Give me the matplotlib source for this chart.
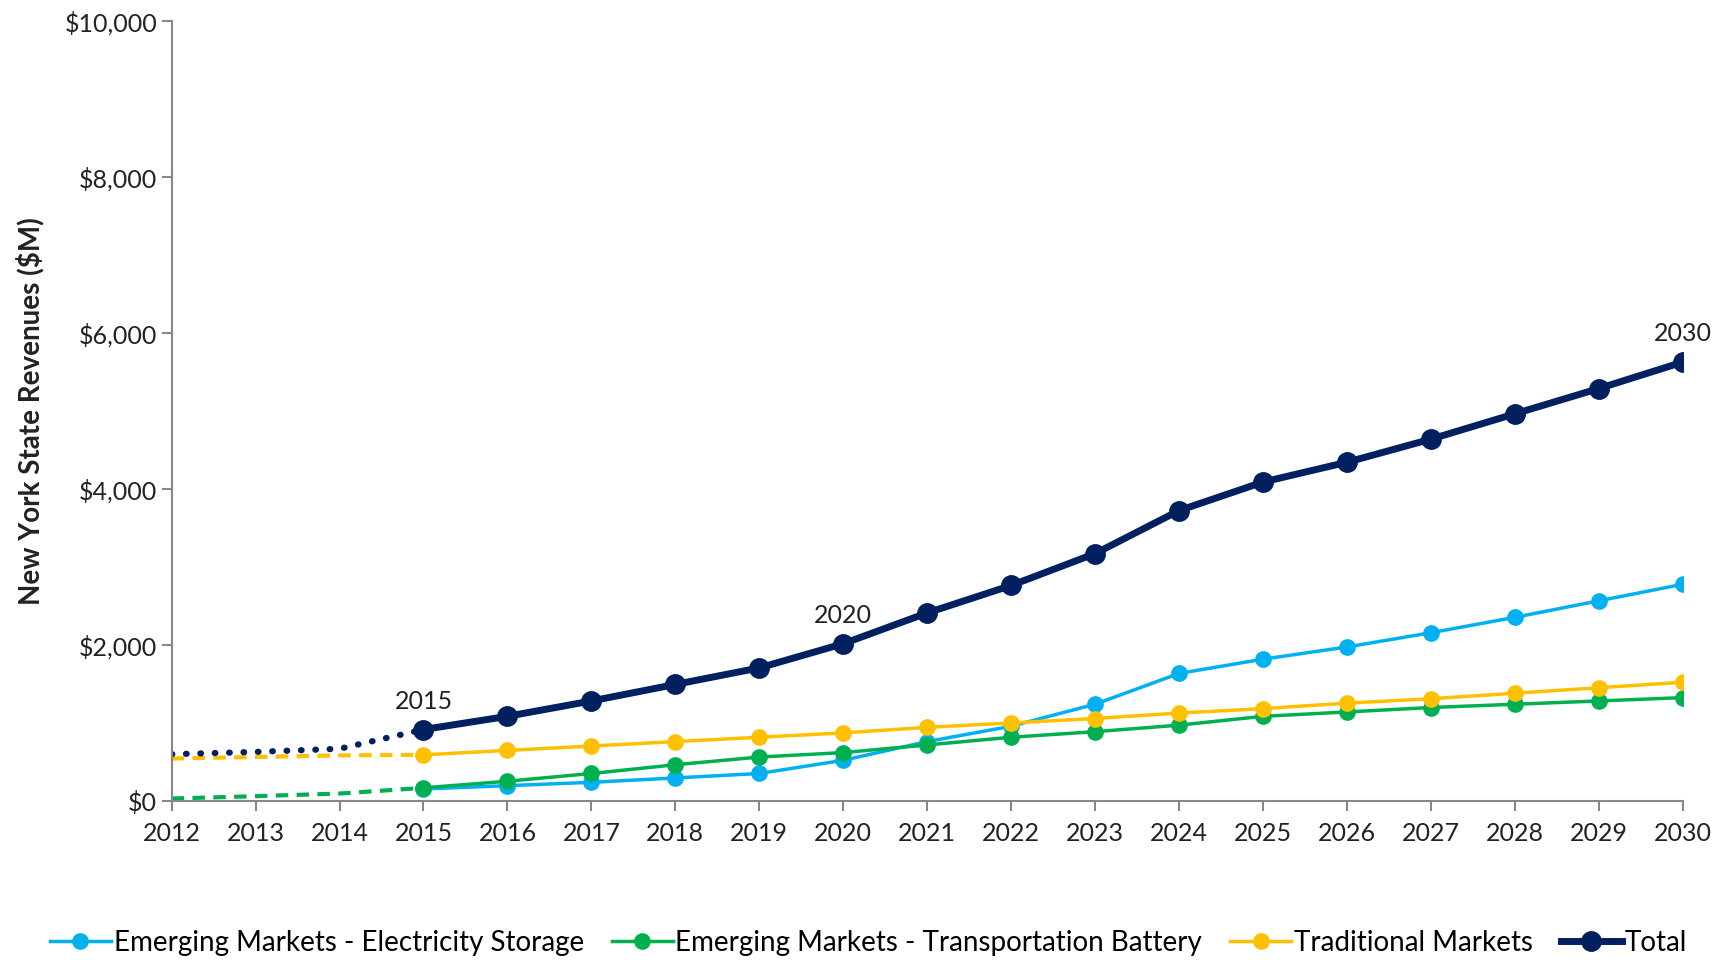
import matplotlib.pyplot as plt
from matplotlib.ticker import FuncFormatter

plt.rcParams['font.family'] = ['Lato', 'DejaVu Sans']

# Data ($M)
years = list(range(2015, 2031))
hist_years = [2012, 2013, 2014, 2015]

elec_storage = [155, 197, 240, 296, 353, 522, 762, 959, 1241, 1636, 1819, 1975, 2158, 2355, 2567, 2779]
transport_battery = [169, 254, 353, 465, 564, 621, 719, 818, 889, 973, 1086, 1142, 1199, 1241, 1283, 1326]
traditional = [592, 649, 705, 762, 818, 874, 945, 1001, 1058, 1128, 1185, 1255, 1312, 1382, 1453, 1523]
total = [917, 1086, 1283, 1495, 1707, 2017, 2412, 2764, 3173, 3724, 4090, 4344, 4640, 4965, 5289, 5628]

# historical lead-in (dotted / dashed, no markers)
total_hist = [600, 630, 670, 917]
traditional_hist = [545, 565, 585, 592]
transport_hist = [32, 62, 96, 169]

labelled_years = [2015, 2020, 2030]

c_blue = '#00B0F0'
c_green = '#00B050'
c_yellow = '#FFC000'
c_navy = '#002060'

fig = plt.figure(figsize=(17.25, 9.6), dpi=100)
ax = fig.add_axes([0.0995, 0.1656, 0.876, 0.8124])

# history
ax.plot(hist_years, transport_hist, color=c_green, lw=3, ls=(0, (3, 2)))
ax.plot(hist_years, traditional_hist, color=c_yellow, lw=3, ls=(0, (3, 2)))
ax.plot(hist_years, total_hist, color=c_navy, lw=4.5, ls=(0, (0.1, 2.2)),
        dash_capstyle='round')

# projections
ax.plot(years, elec_storage, color=c_blue, lw=2.5, marker='o', ms=11,
        label='Emerging Markets - Electricity Storage')
ax.plot(years, transport_battery, color=c_green, lw=2.5, marker='o', ms=11,
        label='Emerging Markets - Transportation Battery')
ax.plot(years, traditional, color=c_yellow, lw=2.5, marker='o', ms=11,
        label='Traditional Markets')
ax.plot(years, total, color=c_navy, lw=5, marker='o', ms=14, label='Total')

for yr in labelled_years:
    v = total[years.index(yr)]
    ax.annotate(str(yr), (yr, v), xytext=(0, 12), textcoords='offset points',
                ha='center', va='bottom', fontsize=18, color='#222222')

ax.set_xlim(2012, 2030)
ax.set_ylim(0, 10000)
ax.set_xticks(range(2012, 2031))
ax.set_yticks(range(0, 10001, 2000))
ax.yaxis.set_major_formatter(FuncFormatter(lambda v, p: f'${v:,.0f}'))
ax.tick_params(axis='both', labelsize=18, color='#888888', length=7,
               width=1.5, labelcolor='#222222')
ax.tick_params(axis='x', pad=8)

for s in ['top', 'right']:
    ax.spines[s].set_visible(False)
for s in ['left', 'bottom']:
    ax.spines[s].set_color('#888888')
    ax.spines[s].set_linewidth(1.5)

ax.set_ylabel('New York State Revenues ($M)', fontsize=20, fontweight='bold',
              color='#222222', labelpad=14)

ax.legend(loc='center', bbox_to_anchor=(0.461, -0.182), ncol=4,
          frameon=False, fontsize=20, handlelength=2.2, handletextpad=0.1,
          columnspacing=1.0)

fig.savefig('out.png', dpi=100)
